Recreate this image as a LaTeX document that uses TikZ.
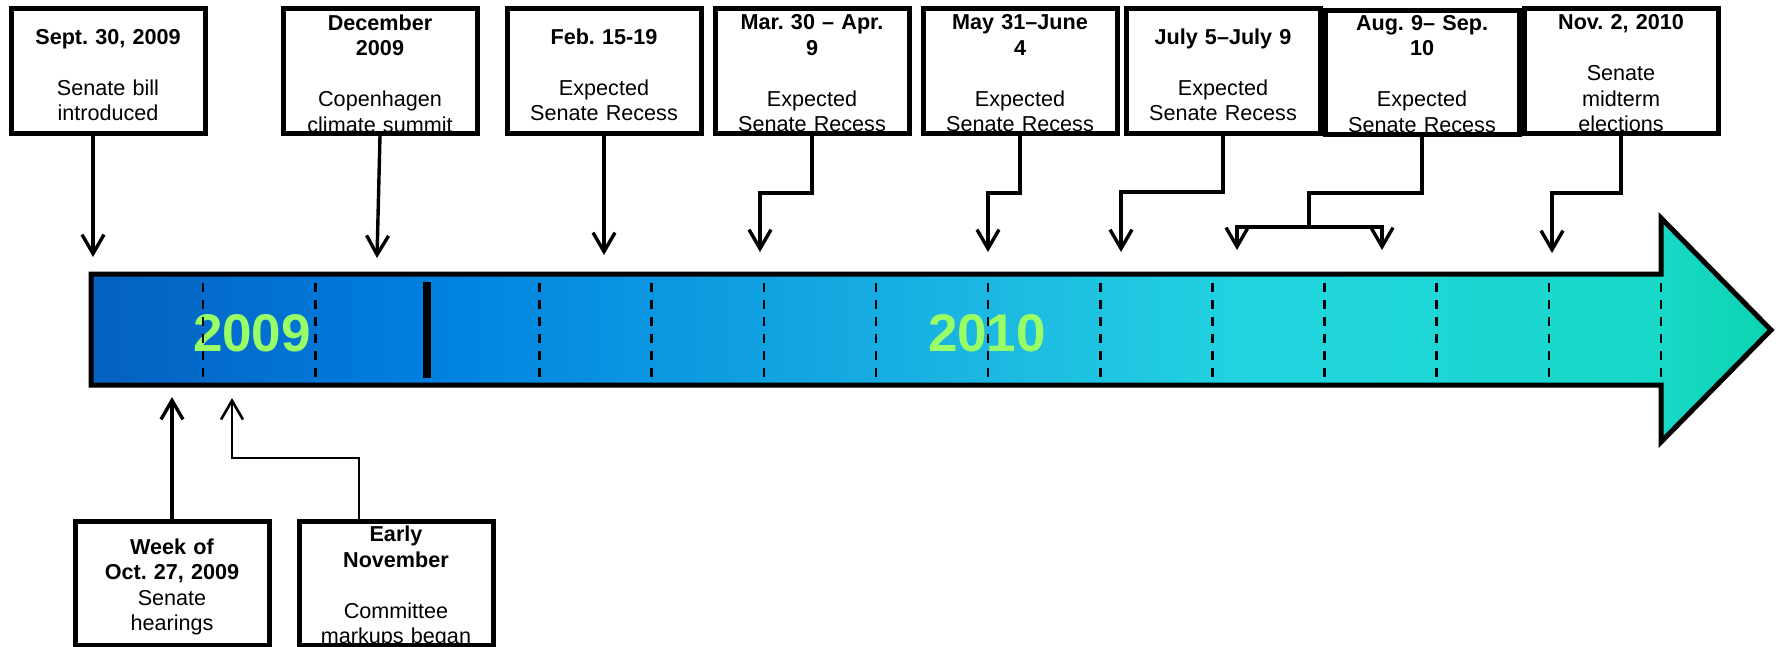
\documentclass[tikz,border=0pt]{standalone}
\usepackage{fontspec}
\setmainfont{Liberation Sans}
\usetikzlibrary{arrows.meta}
\frenchspacing
\definecolor{yeargreen}{RGB}{153,255,102}
\pgfdeclarehorizontalshading{tlshade}{100bp}{
 rgb(0bp)=(0.02,0.376,0.753);
 rgb(25bp)=(0.02,0.376,0.753);
 rgb(35bp)=(0,0.502,0.878);
 rgb(51.7bp)=(0.11,0.72,0.886);
 rgb(59.5bp)=(0.133,0.831,0.878);
 rgb(71.7bp)=(0.094,0.847,0.784);
 rgb(75bp)=(0.047,0.831,0.69);
 rgb(100bp)=(0.047,0.831,0.69)}
\begin{document}
\begin{tikzpicture}[x=0.5pt,y=-0.5pt,
  evbox/.style={draw, line width=2.5pt, fill=white, inner sep=0pt,
    minimum width=97pt, minimum height=62pt},
  evtext/.style={inner sep=0pt, text width=97pt, align=center,
    font=\fontsize{10.8pt}{12.75pt}\selectfont},
  conn/.style={line width=1.7pt, line join=miter,
    -{Straight Barb[length=9.5pt,width=11pt]}},
  yr/.style={inner sep=0pt, text=yeargreen, font=\fontsize{26.5pt}{30pt}\selectfont\bfseries},
  sep/.style={line width=1.3pt, dash pattern=on 4.5pt off 4pt}
]
\useasboundingbox (0,0) rectangle (1781,647);

% timeline arrow
\draw[shading=tlshade, line width=2.5pt, line join=miter]
  (91,274) -- (1661,274) -- (1661,218) -- (1771,330) -- (1661,442)
  -- (1661,385) -- (91,385) -- cycle;

% year labels
\node[yr] (y09) at (252,333) {2009};
\node[yr] (y10) at (987,333) {2010};

% month separators
\foreach \k in {1,2,4,5,6,7,8,9,10,11,12,13,14}
  \draw[sep] ({91+112.14*\k},283) -- ({91+112.14*\k},377);
\draw[line width=4pt] (427.4,282) -- (427.4,378);

% top boxes
\node[evbox] (b1) at (108,71) {};
\node[evbox] (b2) at (380,71) {};
\node[evbox] (b3) at (604,71) {};
\node[evbox] (b4) at (812,71) {};
\node[evbox] (b5) at (1020,71) {};
\node[evbox] (b6) at (1223,71) {};
\node[evbox] (b7) at (1422,72.5) {};
\node[evbox] (b8) at (1621,71) {};
% bottom boxes
\node[evbox] (b9) at (172,583) {};
\node[evbox] (b10) at (396,583) {};

% box texts
\node[evtext] (b1t) at ([yshift=-2pt]b1.center) {\textbf{Sept. 30, 2009}\\[12.75pt]Senate bill\\introduced};
\node[evtext] (b2t) at ([yshift=-1.2pt]b2.center) {\textbf{December}\\\textbf{2009}\\[12.75pt]Copenhagen\\climate summit};
\node[evtext] (b3t) at ([yshift=-2pt]b3.center) {\textbf{Feb. 15-19}\\[12.75pt]Expected\\Senate Recess};
\node[evtext] (b4t) at ([yshift=-1.2pt]b4.center) {\textbf{Mar. 30 – Apr.}\\\textbf{9}\\[12.75pt]Expected\\Senate Recess};
\node[evtext] (b5t) at ([yshift=-1.2pt]b5.center) {\textbf{May 31–June}\\\textbf{4}\\[12.75pt]Expected\\Senate Recess};
\node[evtext] (b6t) at ([yshift=-2pt]b6.center) {\textbf{July 5–July 9}\\[12.75pt]Expected\\Senate Recess};
\node[evtext] (b7t) at ([yshift=-0.6pt]b7.center) {\textbf{Aug. 9– Sep.}\\\textbf{10}\\[12.75pt]Expected\\Senate Recess};
\node[evtext] (b8t) at ([yshift=-1.2pt]b8.center) {\textbf{Nov. 2, 2010}\\[12.75pt]Senate\\midterm\\elections};
\node[evtext] (b9t) at ([yshift=-2pt]b9.center) {\textbf{Week of}\\\textbf{Oct. 27, 2009}\\Senate\\hearings};
\node[evtext] (b10t) at ([yshift=-2pt]b10.center) {\textbf{Early}\\\textbf{November}\\[12.75pt]Committee\\markups began};

% connector points
\coordinate (t1) at (93,257);
\coordinate (t2) at (377,258);
\coordinate (t3) at (604,255);
\coordinate (e4) at (760,193); \coordinate (t4) at (760,252);
\coordinate (e5) at (988,193); \coordinate (t5) at (988,252);
\coordinate (e6) at (1121,192); \coordinate (t6) at (1121,252);
\coordinate (e7) at (1309,193); \coordinate (f7) at (1309,227);
\coordinate (t7a) at (1237,250); \coordinate (t7b) at (1382,250);
\coordinate (e8) at (1552,193); \coordinate (t8) at (1552,253);
\coordinate (t9) at (172,397);
\coordinate (e10) at (232,458); \coordinate (t10) at (232,398);

% connectors
\draw[conn] (b1.south -| t1) -- (t1);
\draw[conn] (b2.south) -- (t2);
\draw[conn] (b3.south) -- (t3);
\draw[conn] (b4.south) |- (e4) -- (t4);
\draw[conn] (b5.south) |- (e5) -- (t5);
\draw[conn] (b6.south) |- (e6) -- (t6);
\draw[line width=1.7pt] (b7.south) |- (e7) -- (f7);
\draw[conn] (f7) -| (t7a);
\draw[conn] (f7) -| (t7b);
\draw[conn] (b8.south) |- (e8) -- (t8);
\draw[conn] (b9.north) -- (t9);
\draw[conn, line width=1.3pt] ([xshift=-18.5pt]b10.north) |- (e10) -- (t10);
\end{tikzpicture}
\end{document}
